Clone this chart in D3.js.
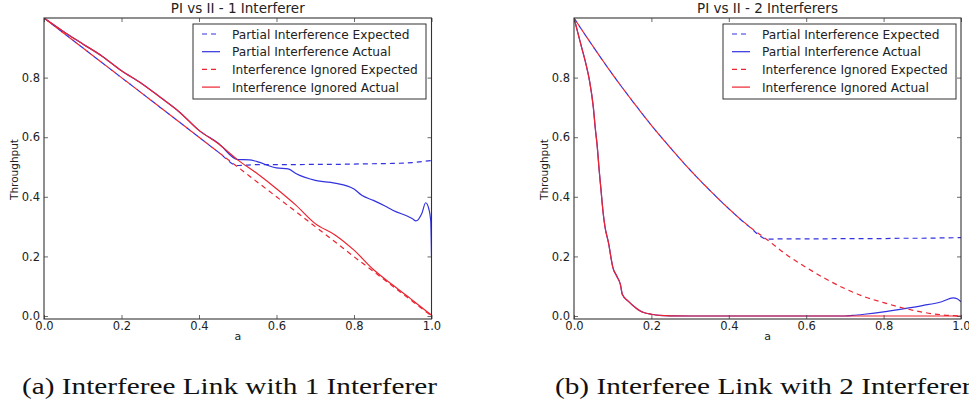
<!DOCTYPE html>
<html>
<head>
<meta charset="utf-8">
<script src="https://cdn.jsdelivr.net/npm/d3@7"></script>
<style>
  html, body { margin: 0; padding: 0; background: #fff; }
  svg { display: block; }
</style>
</head>
<body>
<svg id="chart" width="969" height="406"></svg>
<script>
// ---------------- DATA ----------------
const titles = ["PI vs II - 1 Interferer", "PI vs II - 2 Interferers"];
const captions = ["(a) Interferee Link with 1 Interferer", "(b) Interferee Link with 2 Interferers"];
const seriesNames = ["Partial Interference Expected", "Partial Interference Actual",
                     "Interference Ignored Expected", "Interference Ignored Actual"];
const xTicks = [0.0, 0.2, 0.4, 0.6, 0.8, 1.0];
const yTicks = [0.0, 0.2, 0.4, 0.6, 0.8];
const xLabel = "a";
const yLabel = "Throughput";

// common coarse grid of a
const aGrid = [0, 0.05, 0.1, 0.15, 0.2, 0.25, 0.3, 0.35, 0.4, 0.45, 0.5,
               0.55, 0.6, 0.65, 0.7, 0.75, 0.8, 0.85, 0.9, 0.95, 1.0];

// Panel (a): 1 interferer
const piExpected1 = [1.0, 0.95, 0.9, 0.85, 0.8, 0.75, 0.7, 0.65, 0.6, 0.55, 0.505,
                     0.508, 0.508, 0.508, 0.509, 0.509, 0.51, 0.511, 0.512, 0.515, 0.522];
const iiExpected1 = [1.0, 0.95, 0.9, 0.85, 0.8, 0.75, 0.7, 0.65, 0.6, 0.55, 0.5,
                     0.45, 0.4, 0.35, 0.3, 0.25, 0.199, 0.15, 0.1, 0.05, 0.0];
const iiActual1 = [1.0, 0.955, 0.913, 0.872, 0.823, 0.782, 0.734, 0.684, 0.623, 0.578, 0.524,
                   0.478, 0.427, 0.372, 0.31, 0.273, 0.221, 0.156, 0.104, 0.054, 0.003];
const piActualA1 = [0, 0.05, 0.1, 0.15, 0.2, 0.25, 0.3, 0.35, 0.4, 0.45, 0.5,
                    0.53, 0.55, 0.6, 0.63, 0.65, 0.7, 0.75, 0.8, 0.82, 0.85, 0.88, 0.9,
                    0.95, 0.96, 0.975, 0.985, 0.993, 0.998, 1.0];
const piActual1 = [1.0, 0.955, 0.913, 0.872, 0.823, 0.782, 0.734, 0.684, 0.623, 0.58, 0.525,
                   0.524, 0.518, 0.497, 0.494, 0.478, 0.455, 0.446, 0.426, 0.405, 0.388, 0.369, 0.355,
                   0.327, 0.319, 0.344, 0.38, 0.36, 0.32, 0.2];

// Panel (b): 2 interferers
const piExpected2 = [1.0, 0.903, 0.81, 0.723, 0.64, 0.563, 0.49, 0.423, 0.36, 0.303, 0.258,
                     0.259, 0.259, 0.259, 0.26, 0.26, 0.26, 0.261, 0.261, 0.262, 0.263];
const iiExpected2 = [1.0, 0.903, 0.81, 0.723, 0.64, 0.563, 0.49, 0.423, 0.36, 0.303, 0.255,
                     0.205, 0.163, 0.125, 0.092, 0.065, 0.045, 0.027, 0.013, 0.004, 0.0];
const actualA2 = [0, 0.01, 0.02, 0.03, 0.04, 0.05, 0.055, 0.06, 0.065, 0.07, 0.075, 0.08,
                  0.09, 0.095, 0.1, 0.11, 0.12, 0.125, 0.14, 0.16, 0.17, 0.18, 0.2, 0.22,
                  0.25, 0.3, 0.4, 0.5, 0.6, 0.7, 0.72, 0.75, 0.8, 0.85, 0.9, 0.95, 0.98, 0.99, 1.0];
const iiActual2 = [1.0, 0.95, 0.9, 0.85, 0.79, 0.7, 0.63, 0.57, 0.49, 0.42, 0.35, 0.3,
                   0.24, 0.2, 0.165, 0.135, 0.105, 0.072, 0.05, 0.027, 0.018, 0.012, 0.006, 0.002,
                   0.0005, 0, 0, 0, 0, 0, 0, 0, 0, 0, 0, 0, 0, 0, 0];
const piActual2 = [1.0, 0.95, 0.9, 0.85, 0.79, 0.7, 0.63, 0.57, 0.49, 0.42, 0.35, 0.3,
                   0.24, 0.2, 0.165, 0.135, 0.105, 0.072, 0.05, 0.027, 0.018, 0.012, 0.006, 0.002,
                   0.0005, 0, 0, 0, 0, 0, 0.002, 0.006, 0.014, 0.024, 0.035, 0.048, 0.061, 0.058, 0.048];

// ---------------- DRAW ----------------
const BLUE = "#3232e0";
const RED = "#ec2330";
const FONT = "DejaVu Sans, Bitstream Vera Sans, sans-serif";
const svg = d3.select("#chart");

const panels = [
  { left: 44, right: 431.5, series: [
      { x: aGrid, y: piExpected1, color: BLUE, dash: true, off: 0 },
      { x: piActualA1, y: piActual1, color: BLUE, dash: false },
      { x: aGrid, y: iiExpected1, color: RED, dash: true, off: 4.5 },
      { x: aGrid, y: iiActual1, color: RED, dash: false } ] },
  { left: 574, right: 961, series: [
      { x: aGrid, y: piExpected2, color: BLUE, dash: true, off: 0 },
      { x: actualA2, y: piActual2, color: BLUE, dash: false },
      { x: aGrid, y: iiExpected2, color: RED, dash: true, off: 4.5 },
      { x: actualA2, y: iiActual2, color: RED, dash: false } ] }
];

const plotTop = 18, plotBottom = 319;

panels.forEach((p, i) => {
  const g = svg.append("g");
  const x = d3.scaleLinear().domain([0, 1]).range([p.left, p.right]);
  const y = d3.scaleLinear().domain([-0.01, 1.0]).range([plotBottom, plotTop]);
  const clipId = "clip" + i;
  svg.append("clipPath").attr("id", clipId).append("rect")
    .attr("x", p.left).attr("y", plotTop).attr("width", p.right - p.left).attr("height", plotBottom - plotTop);

  // lines
  const line = d3.line().x(d => x(d[0])).y(d => y(d[1])).curve(d3.curveMonotoneX);
  const lg = g.append("g").attr("clip-path", `url(#${clipId})`);
  p.series.forEach(s => {
    const pts = s.x.map((v, k) => [v, s.y[k]]);
    lg.append("path").datum(pts).attr("d", line)
      .attr("fill", "none").attr("stroke", s.color).attr("stroke-width", 1.2)
      .attr("stroke-dasharray", s.dash ? "5,4" : null)
      .attr("stroke-dashoffset", s.dash ? s.off : null);
  });

  // axes (ticks inside, on all sides)
  const tl = 4;
  g.append("g").attr("transform", `translate(0,${plotBottom})`)
    .call(d3.axisBottom(x).tickValues(xTicks).tickFormat(d3.format(".1f")).tickSizeInner(-tl).tickSizeOuter(0).tickPadding(3))
    .call(a => a.select(".domain").remove());
  g.append("g").attr("transform", `translate(0,${plotTop})`)
    .call(d3.axisTop(x).tickValues(xTicks).tickFormat("").tickSizeInner(-tl).tickSizeOuter(0))
    .call(a => a.select(".domain").remove());
  g.append("g").attr("transform", `translate(${p.left},0)`)
    .call(d3.axisLeft(y).tickValues(yTicks).tickFormat(d3.format(".1f")).tickSizeInner(-tl).tickSizeOuter(0).tickPadding(4))
    .call(a => a.select(".domain").remove());
  g.append("g").attr("transform", `translate(${p.right},0)`)
    .call(d3.axisRight(y).tickValues(yTicks).tickFormat("").tickSizeInner(-tl).tickSizeOuter(0))
    .call(a => a.select(".domain").remove());
  g.selectAll(".tick line").attr("stroke", "#444").attr("stroke-width", 0.8);
  g.selectAll(".tick text").attr("font-family", FONT).attr("font-size", 11.5).attr("fill", "#222");

  // frame
  g.append("rect").attr("x", p.left).attr("y", plotTop)
    .attr("width", p.right - p.left).attr("height", plotBottom - plotTop)
    .attr("fill", "none").attr("stroke", "#333").attr("stroke-width", 1.1);

  const cx = (p.left + p.right) / 2;
  // title
  g.append("text").attr("x", cx).attr("y", 13).attr("text-anchor", "middle")
    .attr("font-family", FONT).attr("font-size", 13.5).attr("fill", "#222").text(titles[i]);
  // axis labels
  g.append("text").attr("x", cx).attr("y", 340).attr("text-anchor", "middle")
    .attr("font-family", FONT).attr("font-size", 11).attr("fill", "#222").text(xLabel);
  g.append("text").attr("transform", `translate(${p.left - 26},${(plotTop + plotBottom) / 2 + 1}) rotate(-90)`)
    .attr("text-anchor", "middle").attr("font-family", FONT).attr("font-size", 10.5)
    .attr("fill", "#222").text(yLabel);

  // legend
  const lx = p.left + 149, ly = 24, lw = 233, lh = 75;
  const leg = g.append("g");
  leg.append("rect").attr("x", lx).attr("y", ly).attr("width", lw).attr("height", lh)
    .attr("fill", "#fff").attr("stroke", "#333").attr("stroke-width", 1);
  p.series.forEach((s, k) => {
    const yy = ly + 10 + k * 17.7;
    leg.append("line").attr("x1", lx + 9).attr("x2", lx + 27).attr("y1", yy).attr("y2", yy)
      .attr("stroke", s.color).attr("stroke-width", 1.2)
      .attr("stroke-dasharray", s.dash ? "5,4" : null);
    leg.append("text").attr("x", lx + 39).attr("y", yy + 4.5)
      .attr("font-family", FONT).attr("font-size", 12.2).attr("fill", "#222").text(seriesNames[k]);
  });

  // caption
  svg.append("text").attr("x", i === 0 ? 22 : 555).attr("y", 394)
    .attr("font-family", "Liberation Serif, Times New Roman, serif")
    .attr("font-size", 24).attr("fill", "#111")
    .attr("textLength", i === 0 ? 415 : 428).attr("lengthAdjust", "spacingAndGlyphs")
    .text(captions[i]);
});
</script>
</body>
</html>
